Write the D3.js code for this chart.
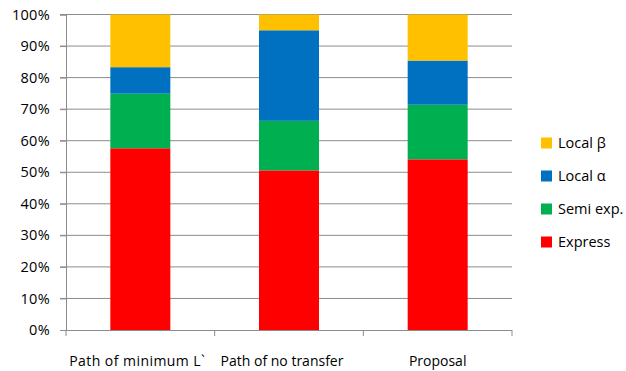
<!DOCTYPE html>
<html>
<head>
<meta charset="utf-8">
<script src="https://cdn.jsdelivr.net/npm/d3@7"></script>
<style>
  html, body { margin: 0; padding: 0; background: #fff; }
  svg { display: block; }
  text { font-family: "Open Sans", sans-serif; font-size: 14px; fill: #000; }
</style>
</head>
<body>
<svg id="chart" width="626" height="371"></svg>
<script>
// Categories and stacked shares (percent of each path's total)
const categories = ["Path of minimum L`", "Path of no transfer", "Proposal"];
const seriesNames = ["Express", "Semi exp.", "Local \u03b1", "Local \u03b2"];
const express  = [57.6, 50.6, 54.1];
const semiExp  = [17.3, 15.7, 17.3];
const localA   = [8.4, 28.7, 14.0];
const localB   = [16.7, 5.0, 14.6];
const yTicks   = [0, 10, 20, 30, 40, 50, 60, 70, 80, 90, 100];
const colors   = ["#FF0000", "#00B050", "#0070C0", "#FFC000"];

const rows = categories.map((c, i) => ({
  category: c,
  "Express": express[i],
  "Semi exp.": semiExp[i],
  "Local \u03b1": localA[i],
  "Local \u03b2": localB[i]
}));

const svg = d3.select("#chart");
const plot = { left: 66, right: 512, top: 14.5, bottom: 330 };

const x = d3.scaleBand().domain(categories).range([plot.left, plot.right]).paddingInner(0).paddingOuter(0);
const y = d3.scaleLinear().domain([0, 100]).range([plot.bottom, plot.top]);
const color = d3.scaleOrdinal().domain(seriesNames).range(colors);

// Horizontal gridlines
svg.append("g")
  .selectAll("line")
  .data(yTicks.filter(t => t > 0))
  .join("line")
  .attr("x1", plot.left - 6).attr("x2", plot.right)
  .attr("y1", d => y(d)).attr("y2", d => y(d))
  .attr("stroke", "#8c8c8c").attr("stroke-width", 1);

// Y axis
const yAxis = svg.append("g")
  .attr("transform", `translate(${plot.left},0)`)
  .call(d3.axisLeft(y).tickValues(yTicks).tickFormat(d => d + "%").tickSize(6).tickPadding(10));
yAxis.select(".domain").attr("stroke", "#8c8c8c");
yAxis.selectAll(".tick line").attr("stroke", "#8c8c8c");
yAxis.selectAll("text").style("font-size", "14.5px").style("font-family", "'Open Sans', sans-serif").style("letter-spacing", "0.3px");

// Stacked bars
const stack = d3.stack().keys(seriesNames)(rows);
const barWidth = 60;
svg.append("g")
  .selectAll("g")
  .data(stack)
  .join("g")
  .attr("fill", d => color(d.key))
  .selectAll("rect")
  .data(d => d)
  .join("rect")
  .attr("x", d => x(d.data.category) + (x.bandwidth() - barWidth) / 2)
  .attr("width", barWidth)
  .attr("y", d => y(d[1]))
  .attr("height", d => y(d[0]) - y(d[1]));

// X axis with category separators
const xAxisG = svg.append("g").attr("transform", `translate(0,${plot.bottom})`);
xAxisG.append("line")
  .attr("x1", plot.left).attr("x2", plot.right)
  .attr("y1", 0.5).attr("y2", 0.5)
  .attr("stroke", "#8c8c8c");
const edges = categories.map(c => x(c)).concat([plot.right]);
xAxisG.selectAll("line.sep")
  .data(edges)
  .join("line")
  .attr("class", "sep")
  .attr("x1", d => d).attr("x2", d => d)
  .attr("y1", 0).attr("y2", 6)
  .attr("stroke", "#8c8c8c");
const labelNudge = [-3, -7, 0];
xAxisG.selectAll("text.cat")
  .data(categories)
  .join("text")
  .attr("class", "cat")
  .attr("x", (d, i) => x(d) + x.bandwidth() / 2 + labelNudge[i])
  .attr("y", 36)
  .attr("text-anchor", "middle")
  .style("letter-spacing", (d, i) => i === 0 ? "0.45px" : "0px")
  .text(d => d);

// Legend, top entry is the last series
const legendItems = seriesNames.slice().reverse();
const legend = svg.append("g").attr("transform", "translate(541,143)");
const item = legend.selectAll("g")
  .data(legendItems)
  .join("g")
  .attr("transform", (d, i) => `translate(0,${i * 33})`);
item.append("rect")
  .attr("x", 0).attr("y", -5.5)
  .attr("width", 11).attr("height", 11)
  .attr("fill", d => color(d));
item.append("text")
  .attr("x", 17).attr("y", 0)
  .attr("dy", "0.35em")
  .style("font-size", "14.5px")
  .text(d => d);
</script>
</body>
</html>
